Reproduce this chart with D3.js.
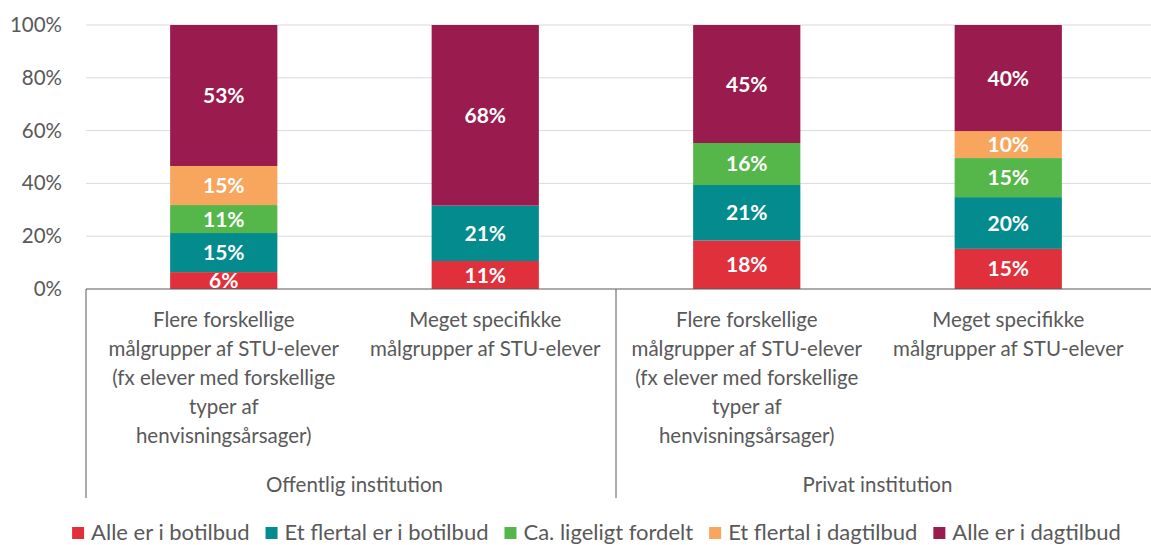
<!DOCTYPE html>
<html lang="da">
<head>
    <meta charset="UTF-8">
    <title>Botilbud og dagtilbud</title>
    <script src="https://d3js.org/d3.v7.min.js"></script>
    <style>
        body {
            margin: 0;
            background-color: white;
            font-family: Lato, "Open Sans", sans-serif;
        }
        svg { display: block; }
        .tick-label { font-size: 20.5px; fill: #595959; }
        .cat-label { font-size: 20.5px; fill: #595959; }
        .bar-label { font-size: 21px; font-weight: bold; fill: white; }
        .legend-text { font-size: 22px; fill: #595959; }
    </style>
</head>
<body>
    <svg id="chart" width="1151" height="545"></svg>

    <script>
        // Data
        const groups = ["Offentlig institution", "Privat institution"];
        const categories = [
            ["Flere forskellige", "målgrupper af STU-elever", "(fx elever med forskellige", "typer af", "henvisningsårsager)"],
            ["Meget specifikke", "målgrupper af STU-elever"],
            ["Flere forskellige", "målgrupper af STU-elever", "(fx elever med forskellige", "typer af", "henvisningsårsager)"],
            ["Meget specifikke", "målgrupper af STU-elever"]
        ];
        const categoryGroup = [0, 0, 1, 1];

        const seriesNames = ["Alle er i botilbud", "Et flertal er i botilbud", "Ca. ligeligt fordelt", "Et flertal i dagtilbud", "Alle er i dagtilbud"];
        const seriesColors = ["#E0303B", "#038B8D", "#55B74A", "#F8A65D", "#9A1B4D"];

        // shares per category, bottom to top
        const alleBotilbud    = [0.064, 0.106, 0.184, 0.152];
        const flertalBotilbud = [0.148, 0.210, 0.210, 0.196];
        const ligeligt        = [0.106, 0,     0.159, 0.148];
        const flertalDagtilbud= [0.148, 0,     0,     0.102];
        const alleDagtilbud   = [0.534, 0.684, 0.447, 0.402];
        const seriesValues = [alleBotilbud, flertalBotilbud, ligeligt, flertalDagtilbud, alleDagtilbud];

        const yTicks = [0, 0.2, 0.4, 0.6, 0.8, 1.0];

        const svg = d3.select("#chart");
        const axisLeft = 86, plotTop = 25, plotBottom = 289;

        const x = d3.scaleBand()
            .domain(d3.range(categories.length))
            .range([93, 1139])
            .padding(0);
        const barW = x.bandwidth() * 0.41;

        const y = d3.scaleLinear().domain([0, 1]).range([plotBottom, plotTop]);

        // gridlines
        svg.selectAll(".grid")
            .data(yTicks.slice(1))
            .enter()
            .append("line")
            .attr("x1", axisLeft)
            .attr("x2", 1151)
            .attr("y1", d => y(d))
            .attr("y2", d => y(d))
            .style("stroke", "#d9d9d9")
            .style("stroke-width", 1);

        // y tick labels
        svg.selectAll(".tick-label")
            .data(yTicks)
            .enter()
            .append("text")
            .attr("class", "tick-label")
            .attr("x", 62)
            .attr("y", d => y(d) + 7)
            .attr("text-anchor", "end")
            .text(d3.format(".0%"));

        // stacked bars
        const rows = categories.map((c, i) => {
            const row = { i: i };
            seriesNames.forEach((s, k) => row[k] = seriesValues[k][i]);
            return row;
        });
        const stack = d3.stack().keys(d3.range(seriesNames.length));
        const layers = stack(rows);

        layers.forEach((layer, k) => {
            const g = svg.append("g");
            layer.forEach((d, i) => {
                const v = d[1] - d[0];
                if (v <= 0) return;
                const cx = x(i) + x.bandwidth() / 2;
                g.append("rect")
                    .attr("x", cx - barW / 2)
                    .attr("y", y(d[1]))
                    .attr("width", barW)
                    .attr("height", y(d[0]) - y(d[1]))
                    .style("fill", seriesColors[k]);
                g.append("text")
                    .attr("class", "bar-label")
                    .attr("x", cx)
                    .attr("y", (y(d[0]) + y(d[1])) / 2 + 7.5)
                    .attr("text-anchor", "middle")
                    .text(Math.round(v * 100) + "%");
            });
        });

        // x axis line
        svg.append("line")
            .attr("x1", axisLeft).attr("x2", 1151)
            .attr("y1", plotBottom).attr("y2", plotBottom)
            .style("stroke", "#595959")
            .style("stroke-width", 1);

        // group separators
        const groupEdges = [axisLeft, x(2)];
        svg.selectAll(".sep")
            .data(groupEdges)
            .enter()
            .append("line")
            .attr("x1", d => d).attr("x2", d => d)
            .attr("y1", plotBottom).attr("y2", 498)
            .style("stroke", "#595959")
            .style("stroke-width", 1);

        // category labels
        categories.forEach((lines, i) => {
            const t = svg.append("text")
                .attr("class", "cat-label")
                .attr("text-anchor", "middle");
            lines.forEach((line, j) => {
                t.append("tspan")
                    .attr("x", x(i) + x.bandwidth() / 2)
                    .attr("y", 327 + j * 29)
                    .text(line);
            });
        });

        // group labels
        groups.forEach((g, gi) => {
            const idx = categoryGroup.map((c, i) => c === gi ? i : -1).filter(i => i >= 0);
            const x0 = x(idx[0]);
            const x1 = x(idx[idx.length - 1]) + x.bandwidth();
            svg.append("text")
                .attr("class", "cat-label")
                .attr("x", (x0 + x1) / 2)
                .attr("y", 492)
                .attr("text-anchor", "middle")
                .text(g);
        });

        // legend
        const legend = svg.append("g");
        let lx = 0;
        seriesNames.forEach((name, k) => {
            legend.append("rect")
                .attr("x", lx)
                .attr("y", 527)
                .attr("width", 12)
                .attr("height", 12)
                .style("fill", seriesColors[k]);
            const t = legend.append("text")
                .attr("class", "legend-text")
                .attr("x", lx + 19)
                .attr("y", 540)
                .text(name);
            lx += 19 + t.node().getComputedTextLength() + 16;
        });
        const legendW = lx - 16;
        legend.attr("transform", `translate(${596.5 - legendW / 2}, 0)`);
    </script>
</body>
</html>
